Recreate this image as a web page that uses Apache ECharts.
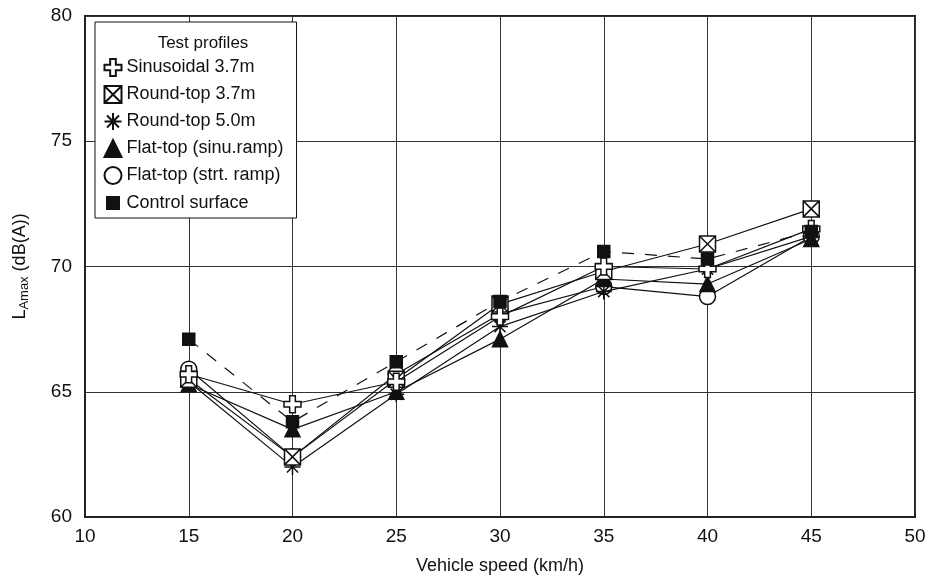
<!DOCTYPE html>
<html>
<head>
<meta charset="utf-8">
<script src="https://cdn.jsdelivr.net/npm/echarts@6/dist/echarts.min.js"></script>
<style>
  html, body { margin: 0; padding: 0; background: #fff; }
  #chart { width: 931px; height: 580px; }
</style>
</head>
<body>
<div id="chart"></div>
<script>
// vehicle speeds (km/h)
const speeds = [15, 20, 25, 30, 35, 40, 45]
// LAmax dB(A) per test profile
const sinusoidal37 = [65.7, 64.5, 65.4, 68.0, 70.0, 69.9, 71.5]
const roundTop37 = [65.5, 62.4, 65.5, 68.5, 69.8, 70.9, 72.3]
const roundTop50 = [65.4, 62.0, 64.9, 67.6, 69.0, 69.9, 71.2]
const flatTopSinu = [65.3, 63.5, 65.0, 67.1, 69.5, 69.3, 71.1]
const flatTopStrt = [65.9, 62.4, 65.7, 68.1, 69.2, 68.8, 71.2]
const controlSurface = [67.1, 63.8, 66.2, 68.6, 70.6, 70.3, 71.4]

const names = ['Sinusoidal 3.7m', 'Round-top 3.7m', 'Round-top 5.0m',
  'Flat-top (sinu.ramp)', 'Flat-top (strt. ramp)', 'Control surface']

const crossPath = 'path://M-1,-3L1,-3L1,-1L3,-1L3,1L1,1L1,3L-1,3L-1,1L-3,1L-3,-1L-1,-1Z'
const boxPath = 'path://M0,0L10,0L10,10L0,10ZM0,0L10,10M10,0L0,10'
const starPath = 'path://M0,5L10,5M5,0L5,10M1.5,1.5L8.5,8.5M8.5,1.5L1.5,8.5'

function pairs(vals) {
  return speeds.map((s, i) => [s, vals[i]])
}

function mkSeries(name, vals, symbol, size, fill, z, dashed) {
  return {
    name: name,
    type: 'line',
    data: pairs(vals),
    symbol: symbol,
    symbolSize: size,
    z: z,
    lineStyle: { color: '#111', width: 1.2, type: dashed ? [12, 11] : 'solid' },
    itemStyle: { color: fill, borderColor: '#111', borderWidth: 1.5 },
    emphasis: { disabled: true }
  }
}

const font = 'Liberation Sans, Arial, sans-serif'

let myChart = echarts.init(document.getElementById('chart'))
myChart.setOption({
  animation: false,
  title: {
    text: 'Test profiles',
    left: 198,
    top: 30,
    textAlign: 'center',
    textStyle: { fontFamily: font, fontSize: 17, fontWeight: 'normal', color: '#111' }
  },
  legend: {
    orient: 'vertical',
    left: 95,
    top: 22,
    padding: [36, 13, 5, 8],
    itemGap: 8,
    itemWidth: 17,
    itemHeight: 17,
    backgroundColor: '#fff',
    borderColor: '#111',
    borderWidth: 1,
    textStyle: { fontFamily: font, fontSize: 18, color: '#111', lineHeight: 18 },
    data: [
      { name: names[0], icon: crossPath },
      { name: names[1], icon: boxPath },
      { name: names[2], icon: starPath },
      { name: names[3], icon: 'triangle' },
      { name: names[4], icon: 'circle' },
      { name: names[5], icon: 'rect', itemStyle: { borderWidth: 3, borderColor: '#fff' } }
    ],
    selectedMode: false
  },
  grid: {
    left: 85,
    right: 16,
    top: 16,
    bottom: 63,
    show: true,
    borderColor: '#222',
    borderWidth: 2
  },
  xAxis: {
    type: 'value',
    min: 10,
    max: 50,
    interval: 5,
    name: 'Vehicle speed (km/h)',
    nameLocation: 'middle',
    nameGap: 40,
    nameTextStyle: { fontFamily: font, fontSize: 18, color: '#111' },
    axisLine: { show: true, lineStyle: { color: '#222', width: 2 } },
    axisTick: { show: false },
    axisLabel: { fontFamily: font, fontSize: 19, color: '#111', margin: 10 },
    splitLine: { show: true, lineStyle: { color: '#333', width: 1 } }
  },
  yAxis: {
    type: 'value',
    min: 60,
    max: 80,
    interval: 5,
    name: '{a|L}{b|Amax}{a| (dB(A))}',
    nameLocation: 'middle',
    nameGap: 54,
    nameTextStyle: {
      color: '#111',
      rich: {
        a: { fontFamily: font, fontSize: 18, color: '#111' },
        b: { fontFamily: font, fontSize: 13, color: '#111', padding: [8, 0, 0, 0] }
      }
    },
    axisLine: { show: true, lineStyle: { color: '#222', width: 2 } },
    axisTick: { show: false },
    axisLabel: { fontFamily: font, fontSize: 19, color: '#111', margin: 13 },
    splitLine: { show: true, lineStyle: { color: '#333', width: 1 } }
  },
  series: [
    mkSeries(names[4], flatTopStrt, 'circle', 16, '#fff', 2),
    mkSeries(names[3], flatTopSinu, 'triangle', 15, '#111', 3),
    mkSeries(names[2], roundTop50, starPath, 16, '#fff', 4),
    mkSeries(names[1], roundTop37, boxPath, 16, '#fff', 5),
    mkSeries(names[0], sinusoidal37, crossPath, 17, '#fff', 6),
    mkSeries(names[5], controlSurface, 'rect', 12, '#111', 7, true)
  ]
})
</script>
</body>
</html>
